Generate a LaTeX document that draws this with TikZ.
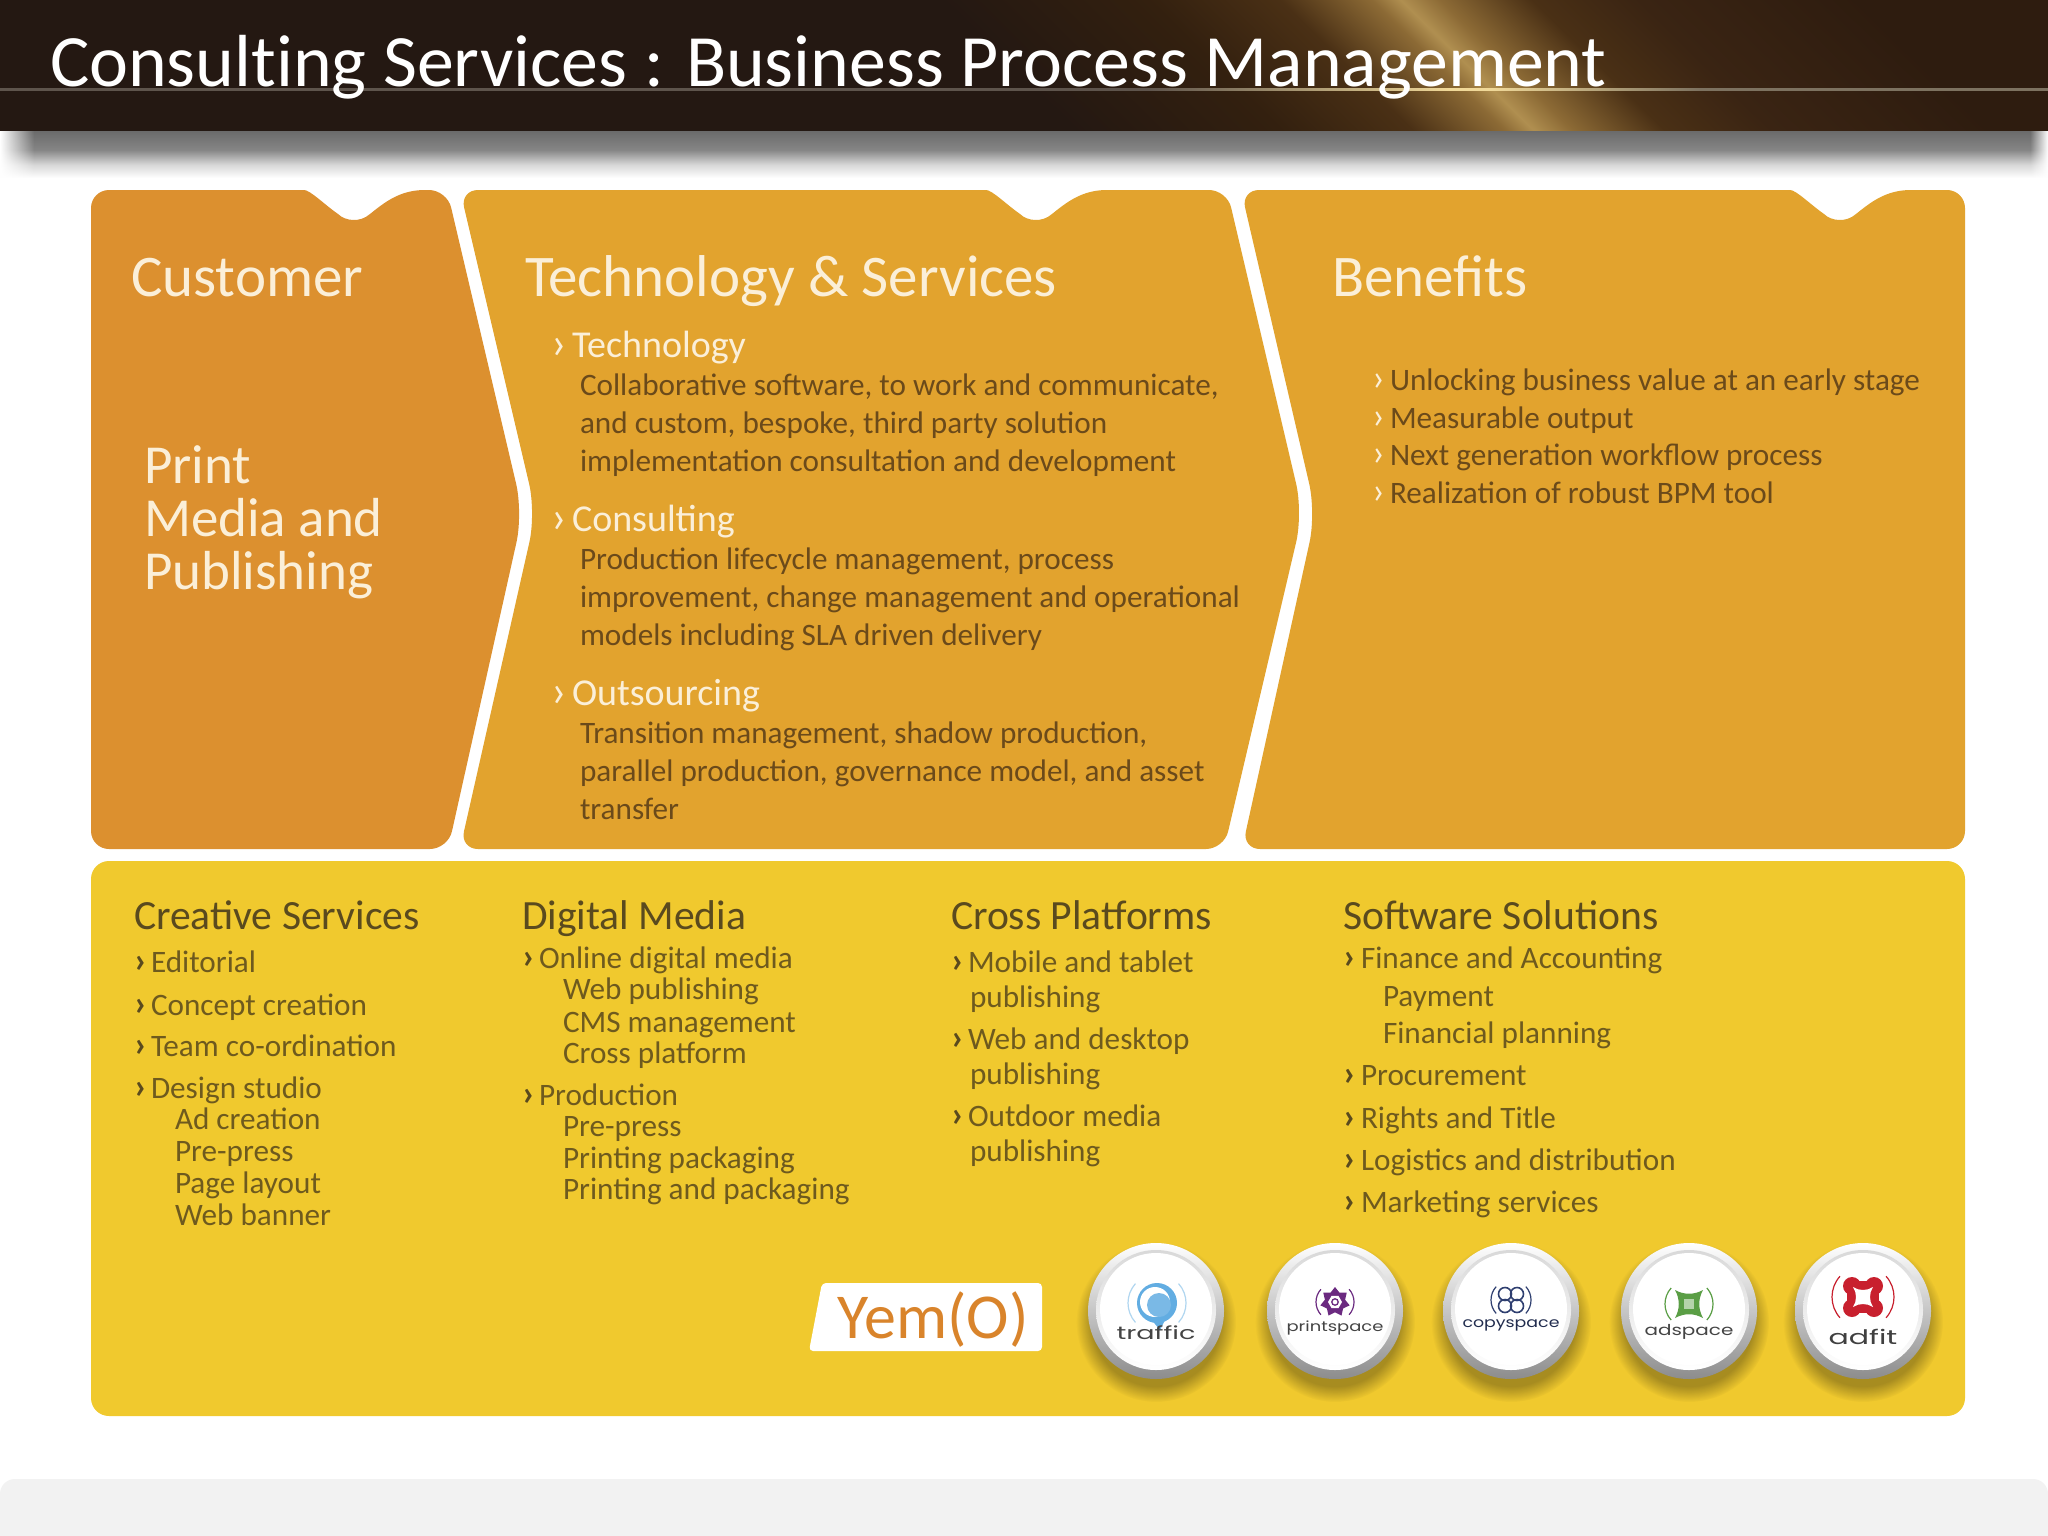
\documentclass[tikz,border=0pt]{standalone}
\usepackage{graphicx}
\usepackage{fontspec}
\setmainfont{Carlito}
\newfontfamily\logofont{Poppins}
\newfontfamily\titlefont[Ligatures=NoCommon]{Carlito}
\usetikzlibrary{shapes.geometric,fadings}
\definecolor{hA}{HTML}{241812}\definecolor{hB}{HTML}{33200F}\definecolor{hC}{HTML}{4A3015}
\definecolor{hD}{HTML}{8C6A35}\definecolor{hE}{HTML}{B08F50}\definecolor{hF}{HTML}{3A2413}
\definecolor{hG}{HTML}{2E1C0F}
\definecolor{rA}{HTML}{5E544C}\definecolor{rB}{HTML}{F0D898}\definecolor{rC}{HTML}{7D7260}
\definecolor{custc}{HTML}{DC902F}\definecolor{techc}{HTML}{E2A32E}\definecolor{yelc}{HTML}{F0C92E}
\definecolor{headc}{HTML}{FBEFD8}\definecolor{bodyc}{HTML}{6B4A1A}
\definecolor{yhead}{HTML}{5A4A1E}\definecolor{ybody}{HTML}{6E5A1E}
\definecolor{bandc}{HTML}{F2F2F2}\definecolor{yemc}{HTML}{D9842B}
\definecolor{trafc}{HTML}{62ADE2}\definecolor{printc}{HTML}{6B2A80}\definecolor{copyc}{HTML}{2F3F70}
\definecolor{adsc}{HTML}{5A9E45}\definecolor{adfc}{HTML}{C8202E}\definecolor{logot}{HTML}{444444}
\definecolor{sA}{HTML}{6B6B6B}\definecolor{sB}{HTML}{858585}\definecolor{sC}{HTML}{D8D8D8}
% TikZ fits the middle of a shading (25bp to 75bp) to the path
\pgfdeclarehorizontalshading{hdr}{100bp}{color(0bp)=(hA);color(43bp)=(hA);color(45.6bp)=(hB);color(47.25bp)=(hC);color(48.4bp)=(hD);color(48.76bp)=(hE);color(49.25bp)=(hD);color(50.4bp)=(hC);color(51.75bp)=(hF);color(54.5bp)=(hG);color(100bp)=(hG)}
\pgfdeclarehorizontalshading{hrule}{100bp}{color(0bp)=(rA);color(53bp)=(rA);color(60.4bp)=(rB);color(61.4bp)=(rB);color(66.5bp)=(rC);color(100bp)=(rC)}
\pgfdeclareverticalshading{barshadow}{100bp}{color(0bp)=(white);color(25bp)=(white);color(39bp)=(sC);color(55bp)=(sB);color(75bp)=(sA);color(100bp)=(sA)}
\newcommand\fs[1]{\fontsize{#1}{#1}\selectfont}
\newcounter{lb}
\newcommand\lab[4]{\stepcounter{lb}\node[txt,#1] (lb\thelb) at (#2,#3) {#4};}
\newcommand\notch[1]{({#1-67},190) [sharp corners] .. controls ({#1-43},190) and ({#1-28},205) .. ({#1-15},214) .. controls ({#1-8},221) and ({#1+7},223) .. ({#1+17},214) .. controls ({#1+32},202) and ({#1+47},190) .. ({#1+72},190) [rounded corners=18pt]}
\newcommand\brk[4]{\draw[#4,line width=1.2pt] (#1,#2) ++(42:#3) arc (42:-42:#3); \draw[#4,line width=1.2pt] (#1,#2) ++(138:#3) arc (138:222:#3);}
\newcommand\badge[2]{%
 \fill[black,opacity=.3,path fading=circle with fuzzy edge 20 percent] (#1,#2+12) circle (80);
 \shade[top color=white,bottom color=black!45] (#1,#2+1) circle (68);
 \shade[top color=black!15,bottom color=white] (#1,#2) circle (60);
 \fill[white] (#1,#2-1) circle (56);}
\tikzset{x=1pt,y=-1pt,
 txt/.style={anchor=base west,inner sep=0pt,outer sep=0pt},
 ttl/.style={font=\titlefont\fs{73.8},text=white},
 hd/.style={font=\fs{59},text=headc},
 big/.style={font=\fs{55},text=headc},
 sub/.style={font=\fs{38},text=headc},
 subb/.style={font=\fs{46},text=headc},
 bod/.style={font=\fs{31.2},text=bodyc},
 bodb/.style={font=\fs{38},text=headc},
 yh/.style={font=\fs{41.6},text=yhead},
 yl/.style={font=\fs{31.2},text=ybody},
 ylb/.style={font=\bfseries\fs{36},text=yhead},
 lgt/.style={anchor=base,inner sep=0pt,outer sep=0pt,text=logot},
 panel/.style={rounded corners=18pt}}
\begin{document}
\begin{tikzpicture}
\useasboundingbox (0,0) rectangle (2048,1536);
\fill[white] (0,0) rectangle (2048,1536);
% title bar shadow
\shade[shading=barshadow] (0,131) rectangle (2048,178);
\fill[white,path fading=east] (0,125) rectangle (34,185);
\fill[white,path fading=west] (2030,125) rectangle (2048,185);
% title bar
\begin{scope}
\clip (0,0) rectangle (2048,131);
\shade[shading=hdr,transform canvas={xslant=-1.02}] (-500,-10) rectangle (3500,200);
\end{scope}
\shade[shading=hrule] (0,89) rectangle (2048,91);
\lab{ttl}{50}{87}{Consulting Services : Business Process Management}
% panels
\fill[custc,panel] (91,500) -- (91,190) -- \notch{353} -- (447,190) [rounded corners=30pt] -- (523,513) [rounded corners=18pt] -- (448,849) -- (91,849) -- cycle;
\fill[techc,panel] (460,190) -- \notch{1035} -- (1227,190) [rounded corners=30pt] -- (1303,513) [rounded corners=18pt] -- (1224,849) -- (460,849) [rounded corners=30pt] -- (536,513) [rounded corners=18pt] -- cycle;
\fill[techc,panel] (1241,190) -- \notch{1839} -- (1965,190) -- (1965,849) -- (1242,849) [rounded corners=30pt] -- (1316,513) [rounded corners=18pt] -- cycle;
\fill[yelc,panel] (91,861) rectangle (1965,1416);
\fill[bandc,rounded corners=15pt] (0,1479) -- (2048,1479) -- (2048,1560) -- (0,1560) -- cycle;
% customer
\lab{hd}{131}{296}{Customer}
\lab{big}{144}{483}{Print}
\lab{big}{144}{536}{Media and}
\lab{big}{144}{589}{Publishing}
% technology
\lab{hd}{525}{296}{Technology \& Services}
\lab{subb}{551}{358}{›}\lab{sub}{572}{357}{Technology}
\lab{bod}{580}{395}{Collaborative software, to work and communicate,}
\lab{bod}{580}{433}{and custom, bespoke, third party solution}
\lab{bod}{580}{471}{implementation consultation and development}
\lab{subb}{551}{532}{›}\lab{sub}{572}{531}{Consulting}
\lab{bod}{580}{569}{Production lifecycle management, process}
\lab{bod}{580}{607}{improvement, change management and operational}
\lab{bod}{580}{645}{models including SLA driven delivery}
\lab{subb}{551}{706}{›}\lab{sub}{572}{705}{Outsourcing}
\lab{bod}{580}{743}{Transition management, shadow production,}
\lab{bod}{580}{781}{parallel production, governance model, and asset}
\lab{bod}{580}{819}{transfer}
% benefits
\lab{hd}{1332}{296}{Benefits}
\lab{bodb}{1372}{390}{›}\lab{bod}{1390}{390}{Unlocking business value at an early stage}
\lab{bodb}{1372}{428}{›}\lab{bod}{1390}{428}{Measurable output}
\lab{bodb}{1372}{465}{›}\lab{bod}{1390}{465}{Next generation workflow process}
\lab{bodb}{1372}{503}{›}\lab{bod}{1390}{503}{Realization of robust BPM tool}
% creative services
\lab{yh}{134}{929}{Creative Services}
\lab{ylb}{134}{972}{›}\lab{yl}{151}{972}{Editorial}
\lab{ylb}{134}{1015}{›}\lab{yl}{151}{1015}{Concept creation}
\lab{ylb}{134}{1056}{›}\lab{yl}{151}{1056}{Team co-ordination}
\lab{ylb}{134}{1098}{›}\lab{yl}{151}{1098}{Design studio}
\lab{yl}{175}{1129}{Ad creation}
\lab{yl}{175}{1161}{Pre-press}
\lab{yl}{175}{1193}{Page layout}
\lab{yl}{175}{1225}{Web banner}
% digital media
\lab{yh}{522}{929}{Digital Media}
\lab{ylb}{522}{968}{›}\lab{yl}{539}{968}{Online digital media}
\lab{yl}{563}{999}{Web publishing}
\lab{yl}{563}{1032}{CMS management}
\lab{yl}{563}{1063}{Cross platform}
\lab{ylb}{522}{1105}{›}\lab{yl}{539}{1105}{Production}
\lab{yl}{563}{1136}{Pre-press}
\lab{yl}{563}{1168}{Printing packaging}
\lab{yl}{563}{1199}{Printing and packaging}
% cross platforms
\lab{yh}{951}{929}{Cross Platforms}
\lab{ylb}{951}{972}{›}\lab{yl}{968}{972}{Mobile and tablet}
\lab{yl}{970}{1007}{publishing}
\lab{ylb}{951}{1049}{›}\lab{yl}{968}{1049}{Web and desktop}
\lab{yl}{970}{1084}{publishing}
\lab{ylb}{951}{1126}{›}\lab{yl}{968}{1126}{Outdoor media}
\lab{yl}{970}{1161}{publishing}
% software
\lab{yh}{1343}{929}{Software Solutions}
\lab{ylb}{1343}{968}{›}\lab{yl}{1361}{968}{Finance and Accounting}
\lab{yl}{1383}{1006}{Payment}
\lab{yl}{1383}{1043}{Financial planning}
\lab{ylb}{1343}{1085}{›}\lab{yl}{1361}{1085}{Procurement}
\lab{ylb}{1343}{1128}{›}\lab{yl}{1361}{1128}{Rights and Title}
\lab{ylb}{1343}{1170}{›}\lab{yl}{1361}{1170}{Logistics and distribution}
\lab{ylb}{1343}{1212}{›}\lab{yl}{1361}{1212}{Marketing services}
% Yemo logo
\fill[white,rounded corners=4pt] (822,1283) -- (1042,1283) -- (1042,1351) -- (809,1351) -- cycle;
\node[lgt,text=yemc,font=\fs{64}] (yemo) at (933,1338) {Yem(O)};
% badges
\badge{1156}{1310}\badge{1335}{1310}\badge{1511}{1310}\badge{1689}{1310}\badge{1863}{1310}
% traffic
\brk{1157}{1303}{29}{trafc!50}
\fill[trafc] (1157,1303) circle (20);
\fill[trafc] (1150,1318) -- (1160,1330) -- (1166,1318) -- cycle;
\fill[white] (1155,1302) circle (15);
\fill[trafc!85] (1159,1305) circle (12);
\node[lgt,font=\logofont\fs{18}] (traffic) at (1156,1339) {\scalebox{1.5}[1]{traffic}};
% printspace
\brk{1335}{1302}{19}{printc}
\node[star,star points=7,star point ratio=1.45,minimum size=30pt,inner sep=0pt,fill=printc] (pstar) at (1335,1302) {};
\node[regular polygon,regular polygon sides=6,minimum size=14pt,inner sep=0pt,fill=white] (phex) at (1335,1302) {};
\draw[printc,line width=1.3pt] (1335,1302) circle (3.2);
\node[lgt,font=\logofont\fs{14}] (printspace) at (1335,1331) {\scalebox{1.28}[1]{printspace}};
% copyspace
\brk{1511}{1300}{20}{copyc}
\draw[copyc,line width=1.6pt] (1505,1294) circle (6.5) (1517,1294) circle (6.5) (1505,1306) circle (6.5) (1517,1306) circle (6.5);
\node[lgt,font=\logofont\fs{14},text=copyc!70!black] (copyspace) at (1511,1327) {\scalebox{1.24}[1]{copyspace}};
% adspace
\brk{1689}{1304}{24}{adsc}
\fill[adsc] (1675,1290) .. controls (1684,1295) and (1694,1295) .. (1703,1290) .. controls (1698,1299) and (1698,1309) .. (1703,1318) .. controls (1694,1313) and (1684,1313) .. (1675,1318) .. controls (1680,1309) and (1680,1299) .. (1675,1290) -- cycle;
\fill[adsc!45] (1684,1299) rectangle (1694,1309);
\node[lgt,font=\logofont\fs{15}] (adspace) at (1689,1335) {\scalebox{1.33}[1]{adspace}};
% adfit
\brk{1863}{1297}{31}{adfc}
\fill[adfc] (1852,1286) circle (9);
\fill[adfc] (1874,1286) circle (9);
\fill[adfc] (1852,1308) circle (9);
\fill[adfc] (1874,1308) circle (9);
\fill[adfc] (1852,1281) rectangle (1874,1313);
\fill[adfc] (1847,1286) rectangle (1879,1308);
\fill[white] (1853,1287) .. controls (1859,1291) and (1867,1291) .. (1873,1287) .. controls (1869,1293) and (1869,1301) .. (1873,1307) .. controls (1867,1303) and (1859,1303) .. (1853,1307) .. controls (1857,1301) and (1857,1293) .. (1853,1287) -- cycle;
\node[lgt,font=\logofont\fs{20},text=black!75] (adfit) at (1863,1344) {\scalebox{1.5}[1]{adfit}};
\end{tikzpicture}
\end{document}
